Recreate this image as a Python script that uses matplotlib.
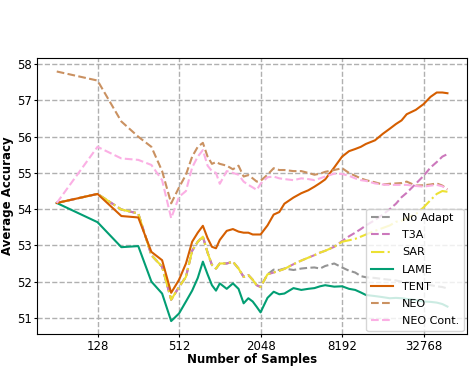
import numpy as np
import matplotlib as mpl
mpl.use('Agg')
import matplotlib.pyplot as plt

samples = [64, 128, 192, 256, 320, 384, 448, 512, 576, 640, 704, 768, 832, 896, 960,
           1024, 1152, 1280, 1408, 1536, 1664, 1792, 1920, 2048, 2304, 2560, 2816, 3072,
           3584, 4096, 4608, 5120, 5632, 6144, 7168, 8192, 9216, 10240, 11264, 12288,
           14336, 16384, 18432, 20480, 22528, 24576, 28672, 32768, 36864, 40960, 45056, 49152]

sar = [54.17, 54.42, 53.99, 53.88, 52.73, 52.41, 51.50, 51.85, 52.13, 52.85, 53.10, 53.24, 52.80, 52.46, 52.36,
       52.50, 52.50, 52.55, 52.36, 52.13, 52.18, 52.05, 51.90, 51.85, 52.20, 52.25, 52.30, 52.35,
       52.48, 52.58, 52.66, 52.73, 52.80, 52.85, 52.96, 53.10, 53.14, 53.18, 53.24, 53.30,
       53.40, 53.48, 53.55, 53.65, 53.68, 53.75, 53.86, 54.05, 54.25, 54.42, 54.50, 54.48]

no_adapt = [54.17, 54.42, 53.99, 53.88, 52.73, 52.41, 51.50, 51.85, 52.13, 52.85, 53.10, 53.24, 52.80, 52.46, 52.36,
            52.50, 52.50, 52.55, 52.36, 52.13, 52.18, 52.05, 51.90, 51.85, 52.20, 52.33, 52.32, 52.36,
            52.32, 52.36, 52.38, 52.39, 52.36, 52.43, 52.50, 52.39, 52.30, 52.25, 52.15, 52.12,
            52.10, 52.07, 52.05, 52.03, 52.00, 51.99, 51.96, 51.93, 51.90, 51.87, 51.85, 51.81]

t3a = [54.17, 54.42, 53.99, 53.88, 52.73, 52.41, 51.50, 51.85, 52.13, 52.85, 53.10, 53.24, 52.80, 52.46, 52.36,
       52.50, 52.50, 52.55, 52.36, 52.13, 52.18, 52.05, 51.90, 51.85, 52.20, 52.25, 52.30, 52.35,
       52.48, 52.58, 52.66, 52.73, 52.80, 52.85, 52.96, 53.12, 53.25, 53.35, 53.45, 53.55,
       53.70, 53.85, 54.00, 54.15, 54.33, 54.45, 54.70, 54.92, 55.15, 55.30, 55.45, 55.52]

lame = [54.17, 53.64, 52.95, 52.98, 52.00, 51.67, 50.91, 51.12, 51.45, 51.75, 52.10, 52.55, 52.20, 51.90, 51.75,
        51.95, 51.80, 51.95, 51.80, 51.40, 51.54, 51.45, 51.30, 51.15, 51.55, 51.72, 51.65, 51.67,
        51.82, 51.77, 51.80, 51.82, 51.87, 51.90, 51.86, 51.87, 51.80, 51.77, 51.70, 51.63,
        51.60, 51.57, 51.54, 51.55, 51.54, 51.52, 51.49, 51.45, 51.44, 51.42, 51.38, 51.31]

tent = [54.17, 54.42, 53.81, 53.77, 52.82, 52.59, 51.69, 52.05, 52.50, 53.10, 53.35, 53.54, 53.20, 52.96, 52.92,
        53.15, 53.40, 53.45, 53.38, 53.35, 53.35, 53.30, 53.30, 53.30, 53.55, 53.85, 53.92, 54.15,
        54.32, 54.44, 54.52, 54.62, 54.72, 54.82, 55.15, 55.45, 55.60, 55.66, 55.72, 55.80,
        55.90, 56.08, 56.22, 56.35, 56.45, 56.62, 56.74, 56.90, 57.10, 57.22, 57.22, 57.20]

neo = [57.80, 57.55, 56.42, 56.00, 55.72, 55.05, 54.16, 54.60, 54.95, 55.45, 55.72, 55.83, 55.45, 55.25, 55.30,
       55.25, 55.20, 55.10, 55.20, 54.90, 54.94, 54.85, 54.76, 54.78, 54.95, 55.13, 55.08, 55.08,
       55.05, 55.05, 55.00, 54.95, 54.98, 55.03, 55.08, 55.13, 55.00, 54.92, 54.85, 54.80,
       54.74, 54.68, 54.70, 54.71, 54.72, 54.76, 54.65, 54.66, 54.68, 54.71, 54.65, 54.55]

neo_cont = [54.17, 55.72, 55.40, 55.36, 55.22, 54.80, 53.75, 54.34, 54.50, 55.15, 55.45, 55.63, 55.20, 55.05, 55.00,
            54.70, 55.05, 55.00, 54.95, 54.76, 54.67, 54.60, 54.53, 54.70, 54.88, 54.90, 54.85, 54.83,
            54.80, 54.85, 54.83, 54.80, 54.85, 54.90, 54.98, 54.97, 54.92, 54.85, 54.80, 54.78,
            54.71, 54.68, 54.67, 54.67, 54.67, 54.67, 54.64, 54.62, 54.65, 54.67, 54.63, 54.55]

xticks = [128, 512, 2048, 8192, 32768]

fig = plt.figure(figsize=(4.77, 3.70), dpi=100)
ax = fig.add_axes([0.078, 0.097, 0.901, 0.746])

ax.plot(samples, no_adapt, color='#949494', ls='--', lw=1.5, label='No Adapt')
ax.plot(samples, t3a, color='#cc78bc', ls='--', lw=1.5, label='T3A')
ax.plot(samples, sar, color='#ece133', ls='-.', lw=1.5, label='SAR')
ax.plot(samples, lame, color='#029e73', ls='-', lw=1.5, label='LAME')
ax.plot(samples, tent, color='#d55e00', ls='-', lw=1.5, label='TENT')
ax.plot(samples, neo, color='#ca9161', ls='--', lw=1.5, label='NEO')
ax.plot(samples, neo_cont, color='#fbafe4', ls='--', lw=1.5, label='NEO Cont.')

ax.set_xscale('log', base=2)
ax.set_xticks(xticks)
ax.set_xticklabels([str(t) for t in xticks])
ax.set_ylim(50.55, 58.17)
ax.grid(True, ls='--', color='#b0b0b0', lw=1)
ax.tick_params(labelsize=8.5, length=2.5, pad=1.5)
ax.set_xlabel('Number of Samples', fontsize=8.5, fontweight='bold', labelpad=0)
ax.set_ylabel('Average Accuracy', fontsize=8.5, fontweight='bold', labelpad=2)
ax.legend(loc='lower right', fontsize=8, labelspacing=0.65, borderaxespad=0.3)

plt.savefig('out.png', dpi=100)
